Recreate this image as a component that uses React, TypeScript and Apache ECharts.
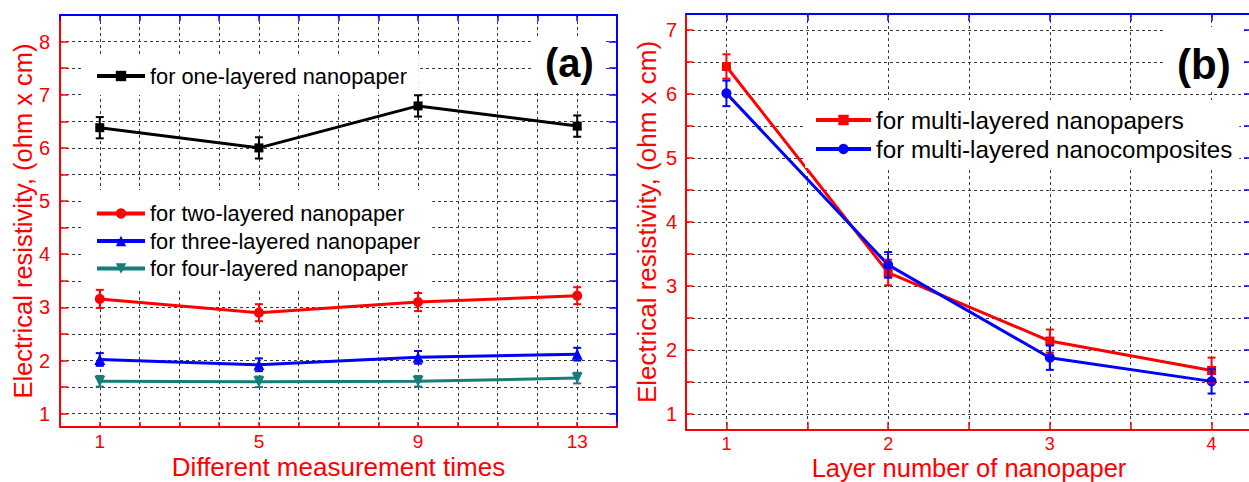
import React, { useEffect, useRef } from 'react';
import * as echarts from 'echarts';

// ---------- data: panel (a) ----------
const timesA = [1, 5, 9, 13];
const oneLayer = [6.38, 6.0, 6.79, 6.41];
const oneLayerErr = [0.2, 0.2, 0.2, 0.2];
const twoLayer = [3.16, 2.9, 3.1, 3.22];
const twoLayerErr = [0.17, 0.16, 0.17, 0.16];
const threeLayer = [2.02, 1.92, 2.06, 2.12];
const threeLayerErr = [0.12, 0.12, 0.12, 0.12];
const fourLayer = [1.61, 1.6, 1.61, 1.67];
const fourLayerErr = [0.1, 0.1, 0.1, 0.1];

// ---------- data: panel (b) ----------
const layersB = [1, 2, 3, 4];
const nanopapers = [6.43, 3.21, 2.14, 1.68];
const nanopapersErr = [0.19, 0.2, 0.18, 0.2];
const nanocomposites = [6.01, 3.33, 1.88, 1.51];
const nanocompositesErr = [0.2, 0.2, 0.19, 0.19];

// ---------- tick labels / tick positions ----------
const xLabelsA = [1, 5, 9, 13];
const yLabelsA = [1, 2, 3, 4, 5, 6, 7, 8];
const yTicksA = [1, 1.5, 2, 2.5, 3, 3.5, 4, 4.5, 5, 5.5, 6, 6.5, 7, 7.5, 8];
const xLabelsB = [1, 2, 3, 4];
const xTicksB = [1, 1.5, 2, 2.5, 3, 3.5, 4];
const yLabelsB = [1, 2, 3, 4, 5, 6, 7];
const yTicksB = [1, 1.5, 2, 2.5, 3, 3.5, 4, 4.5, 5, 5.5, 6, 6.5, 7];

const RED = '#ff0000';
const BLUE = '#0000ff';
const TEAL = '#167d78';
const GRIDC = '#3a3a3a';
const FONT = "'Liberation Sans', Arial, sans-serif";

function lineSeries(name: string, xs: number[], ys: number[], color: string, symbol: string, size: number, xi: number, yi: number, rotate = 0) {
  return {
    type: 'line', name, xAxisIndex: xi, yAxisIndex: yi,
    data: xs.map((x, i) => [x, ys[i]]),
    symbol, symbolSize: size, symbolRotate: rotate, showSymbol: true,
    lineStyle: { color, width: 3 }, itemStyle: { color }, z: 3,
  };
}

function errSeries(xs: number[], ys: number[], es: number[], color: string, xi: number, yi: number) {
  return {
    type: 'custom', xAxisIndex: xi, yAxisIndex: yi, z: 4, silent: true,
    data: xs.map((x, i) => [x, ys[i], es[i]]),
    encode: { x: 0, y: 1 },
    renderItem: (_p: any, api: any) => {
      const x = api.value(0), y = api.value(1), e = api.value(2);
      const t = api.coord([x, y + e]);
      const b = api.coord([x, y - e]);
      const w = 4;
      const st = { stroke: color, lineWidth: 2 };
      return {
        type: 'group',
        children: [
          { type: 'line', shape: { x1: t[0], y1: t[1], x2: b[0], y2: b[1] }, style: st },
          { type: 'line', shape: { x1: t[0] - w, y1: t[1], x2: t[0] + w, y2: t[1] }, style: st },
          { type: 'line', shape: { x1: b[0] - w, y1: b[1], x2: b[0] + w, y2: b[1] }, style: st },
        ],
      };
    },
  };
}

const tickLabel = { color: RED, fontSize: 20, fontFamily: FONT };
const dash = [3, 3];

export default function App() {
  const ref = useRef<HTMLDivElement>(null);
  useEffect(() => {
    if (!ref.current) return;
    const chart = echarts.init(ref.current, undefined, { renderer: 'svg' });
    const option: any = {
      animation: false,
      backgroundColor: '#fff',
      title: [
        { text: '(a)', left: 533, top: 36, padding: [4, 12, 4, 12], backgroundColor: '#fff', textStyle: { fontSize: 40, fontWeight: 'bold', fontFamily: FONT, color: '#000', lineHeight: 46 } },
        { text: '(b)', left: 1164, top: 27, padding: [14, 11, 3, 13], backgroundColor: '#fff', textStyle: { fontSize: 42, fontWeight: 'bold', fontFamily: FONT, color: '#000', lineHeight: 46 } },
      ],
      legend: [
        { data: ['for one-layered nanopaper'], left: 83, top: 55, orient: 'vertical', itemWidth: 48, itemHeight: 13, itemGap: 6, padding: [10, 12, 8, 12], backgroundColor: '#fff', textStyle: { fontSize: 21.8, fontFamily: FONT, color: '#000' }, lineStyle: { width: 4 }, selectedMode: false },
        { data: ['for two-layered nanopaper', 'for three-layered nanopaper', 'for four-layered nanopaper'], left: 83, top: 190, orient: 'vertical', itemWidth: 48, itemHeight: 13, itemGap: 5.5, padding: [12.5, 12, 11, 12], backgroundColor: '#fff', textStyle: { fontSize: 21.8, fontFamily: FONT, color: '#000' }, lineStyle: { width: 4 }, selectedMode: false },
        { data: ['for multi-layered nanopapers', 'for multi-layered nanocomposites'], left: 805, top: 100, orient: 'vertical', itemWidth: 55, itemHeight: 13, itemGap: 5, padding: [8, 7, 7, 9], backgroundColor: '#fff', textStyle: { fontSize: 24.2, fontFamily: FONT, color: '#000' }, lineStyle: { width: 4 }, selectedMode: false },
      ],
      grid: [
        { left: 60, top: 15, width: 557, height: 412, outerBoundsMode: 'none' },
        { left: 686, top: 14, width: 566, height: 416, outerBoundsMode: 'none' },
      ],
      xAxis: [
        {
          type: 'value', gridIndex: 0, position: 'bottom', min: 0, max: 14, interval: 1,
          axisLine: { show: true, onZero: false, lineStyle: { color: RED, width: 2 } },
          axisTick: { show: true, inside: true, length: 5, lineStyle: { color: RED, width: 1.5 } },
          axisLabel: { ...tickLabel, fontSize: 19, lineHeight: 16, margin: 6.9, formatter: (v: number) => (xLabelsA.includes(v) ? String(v) : '') },
          splitLine: { show: true, lineStyle: { color: GRIDC, type: dash, width: 1 } },
          name: 'Different measurement times', nameLocation: 'middle', nameGap: 30.2, nameMoveOverlap: false,
          nameTextStyle: { color: RED, fontSize: 26, fontFamily: FONT, lineHeight: 20 },
        },
        {
          type: 'value', gridIndex: 0, position: 'top', min: 0, max: 14, interval: 1,
          axisLine: { show: true, onZero: false, lineStyle: { color: BLUE, width: 2 } },
          axisTick: { show: true, inside: true, length: 6, lineStyle: { color: BLUE, width: 1.5 } },
          axisLabel: { show: false }, splitLine: { show: false },
        },
        {
          type: 'value', gridIndex: 1, position: 'bottom', min: 0.75, max: 4.25, interval: 0.25,
          axisLine: { show: true, onZero: false, lineStyle: { color: RED, width: 2 } },
          axisTick: { show: false },
          axisLabel: { ...tickLabel, fontSize: 18, lineHeight: 16, margin: 5.7, formatter: (v: number) => (xLabelsB.includes(v) ? String(v) : '') },
          splitLine: { show: true, lineStyle: { color: ['rgba(0,0,0,0)', GRIDC], type: dash, width: 1 } },
          name: 'Layer number of nanopaper', nameLocation: 'middle', nameGap: 29.2, nameMoveOverlap: false,
          nameTextStyle: { color: RED, fontSize: 25.5, fontFamily: FONT, lineHeight: 18 },
        },
        {
          type: 'value', gridIndex: 1, position: 'bottom', min: 0.75, max: 4.25,
          axisLine: { show: false, onZero: false },
          axisTick: { show: true, inside: true, length: 8, customValues: xTicksB, lineStyle: { color: RED, width: 1.5 } },
          axisLabel: { show: false }, splitLine: { show: false },
        },
        {
          type: 'value', gridIndex: 1, position: 'top', min: 0.75, max: 4.25,
          axisLine: { show: true, onZero: false, lineStyle: { color: BLUE, width: 2 } },
          axisTick: { show: true, inside: true, length: 7, customValues: xTicksB, lineStyle: { color: BLUE, width: 1.5 } },
          axisLabel: { show: false }, splitLine: { show: false },
        },
      ],
      yAxis: [
        {
          type: 'value', gridIndex: 0, position: 'left', min: 0.75, max: 8.5, interval: 0.25,
          axisLine: { show: true, onZero: false, lineStyle: { color: RED, width: 2 } },
          axisTick: { show: false },
          axisLabel: { ...tickLabel, margin: 10, formatter: (v: number) => (yLabelsA.includes(v) ? String(v) : '') },
          splitLine: { show: true, lineStyle: { color: ['rgba(0,0,0,0)', GRIDC], type: dash, width: 1 } },
          name: 'Electrical resistivity, (ohm x cm)', nameLocation: 'middle', nameGap: 24.5, nameMoveOverlap: false,
          nameTextStyle: { color: RED, fontSize: 25.5, fontFamily: FONT },
        },
        {
          type: 'value', gridIndex: 0, position: 'left', min: 0.75, max: 8.5,
          axisLine: { show: false, onZero: false },
          axisTick: { show: true, inside: true, length: 8, customValues: yTicksA, lineStyle: { color: RED, width: 1.5 } },
          axisLabel: { show: false }, splitLine: { show: false },
        },
        {
          type: 'value', gridIndex: 0, position: 'right', min: 0.75, max: 8.5,
          axisLine: { show: true, onZero: false, lineStyle: { color: BLUE, width: 2 } },
          axisTick: { show: true, inside: true, length: 8, customValues: yTicksA, lineStyle: { color: BLUE, width: 1.5 } },
          axisLabel: { show: false }, splitLine: { show: false },
        },
        {
          type: 'value', gridIndex: 1, position: 'left', min: 0.75, max: 7.25, interval: 0.25,
          axisLine: { show: true, onZero: false, lineStyle: { color: RED, width: 2 } },
          axisTick: { show: false },
          axisLabel: { ...tickLabel, margin: 9, formatter: (v: number) => (yLabelsB.includes(v) ? String(v) : '') },
          splitLine: { show: true, lineStyle: { color: ['rgba(0,0,0,0)', GRIDC], type: dash, width: 1 } },
          name: 'Electrical resistivity, (ohm x cm)', nameLocation: 'middle', nameGap: 26, nameMoveOverlap: false,
          nameTextStyle: { color: RED, fontSize: 26, fontFamily: FONT },
        },
        {
          type: 'value', gridIndex: 1, position: 'left', min: 0.75, max: 7.25,
          axisLine: { show: false, onZero: false },
          axisTick: { show: true, inside: true, length: 7, customValues: yTicksB, lineStyle: { color: RED, width: 1.5 } },
          axisLabel: { show: false }, splitLine: { show: false },
        },
        {
          type: 'value', gridIndex: 1, position: 'right', min: 0.75, max: 7.25,
          axisLine: { show: true, onZero: false, lineStyle: { color: BLUE, width: 2 } },
          axisTick: { show: true, inside: true, length: 8, customValues: yTicksB, lineStyle: { color: BLUE, width: 1.5 } },
          axisLabel: { show: false }, splitLine: { show: false },
        },
      ],
      series: [
        lineSeries('for one-layered nanopaper', timesA, oneLayer, '#000000', 'rect', 9, 0, 0),
        lineSeries('for two-layered nanopaper', timesA, twoLayer, RED, 'circle', 10, 0, 0),
        lineSeries('for three-layered nanopaper', timesA, threeLayer, BLUE, 'triangle', 11, 0, 0),
        lineSeries('for four-layered nanopaper', timesA, fourLayer, TEAL, 'triangle', 11, 0, 0, 180),
        errSeries(timesA, oneLayer, oneLayerErr, '#000000', 0, 0),
        errSeries(timesA, twoLayer, twoLayerErr, RED, 0, 0),
        errSeries(timesA, threeLayer, threeLayerErr, BLUE, 0, 0),
        errSeries(timesA, fourLayer, fourLayerErr, TEAL, 0, 0),
        lineSeries('for multi-layered nanopapers', layersB, nanopapers, RED, 'rect', 9, 2, 3),
        lineSeries('for multi-layered nanocomposites', layersB, nanocomposites, BLUE, 'circle', 10, 2, 3),
        errSeries(layersB, nanopapers, nanopapersErr, RED, 2, 3),
        errSeries(layersB, nanocomposites, nanocompositesErr, BLUE, 2, 3),
      ],
    };
    chart.setOption(option);
    return () => chart.dispose();
  }, []);
  return <div ref={ref} style={{ position: 'absolute', left: 0, top: 0, width: 1249, height: 482 }} />;
}
